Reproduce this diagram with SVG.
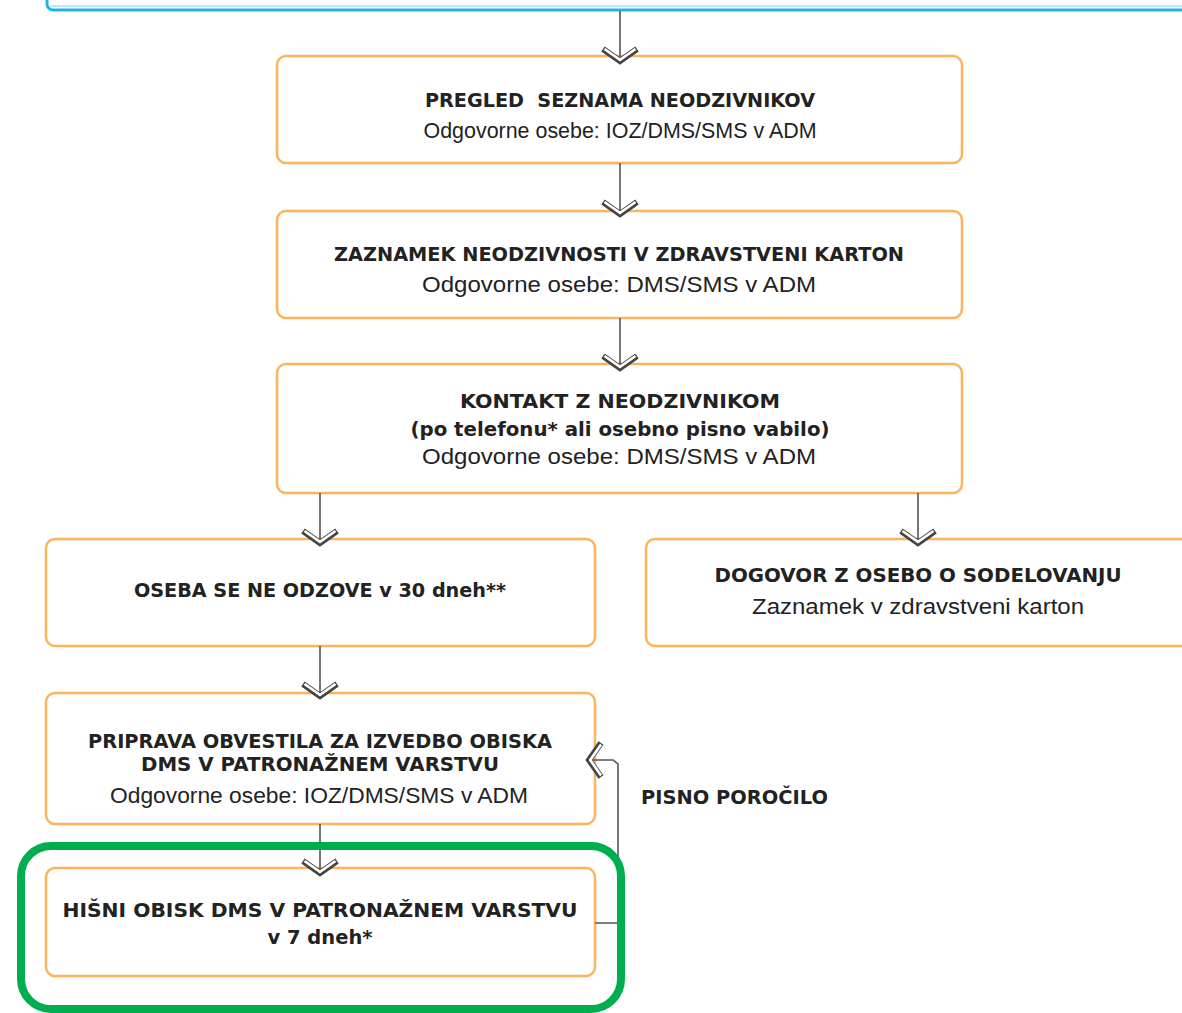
<svg xmlns="http://www.w3.org/2000/svg" width="1182" height="1013" viewBox="0 0 1182 1013">
<defs>
<style>
.box{fill:#fff;stroke:#fbb45c;stroke-width:2.5}
.b{font-family:"DejaVu Sans","Liberation Sans",sans-serif;font-weight:bold;font-size:19px;fill:#222}
.r{font-family:"Liberation Sans",Arial,sans-serif;font-size:22px;fill:#222}
.ln{fill:none;stroke:#555;stroke-width:1.6}
.chO{fill:none;stroke:#444;stroke-width:6;stroke-linejoin:miter;stroke-linecap:butt}
.chI{fill:none;stroke:#fff;stroke-width:2.6;stroke-linejoin:miter;stroke-linecap:butt}
</style>
<g id="chev"><polyline class="chO" points="-17,-12 0,0 17,-12"/><polyline class="chI" points="-15.5,-12 0,-1.2 15.5,-12"/></g>
</defs>
<rect width="1182" height="1013" fill="#fff"/>
<g id="top-box"><rect x="47" y="-30" width="1160" height="40" rx="6" fill="#fff" stroke="#22b5e2" stroke-width="3"/><line x1="50" y1="6" x2="1182" y2="6" stroke="#bfe9f6" stroke-width="2"/></g>
<g id="n1"><rect class="box" x="277" y="56" width="685" height="107" rx="9"/>
<text class="b" x="620" y="107" text-anchor="middle" textLength="390" lengthAdjust="spacingAndGlyphs">PREGLED&#160; SEZNAMA NEODZIVNIKOV</text>
<text class="r" x="620" y="138" text-anchor="middle" textLength="393" lengthAdjust="spacingAndGlyphs">Odgovorne osebe: IOZ/DMS/SMS v ADM</text></g>
<g id="n2"><rect class="box" x="277" y="211" width="685" height="107" rx="9"/>
<text class="b" x="619" y="261" text-anchor="middle" textLength="570" lengthAdjust="spacingAndGlyphs">ZAZNAMEK NEODZIVNOSTI V ZDRAVSTVENI KARTON</text>
<text class="r" x="619" y="292" text-anchor="middle" textLength="394" lengthAdjust="spacingAndGlyphs">Odgovorne osebe: DMS/SMS v ADM</text></g>
<g id="n3"><rect class="box" x="277" y="364" width="685" height="129" rx="9"/>
<text class="b" x="620" y="408" text-anchor="middle" textLength="320" lengthAdjust="spacingAndGlyphs">KONTAKT Z NEODZIVNIKOM</text>
<text class="b" x="620" y="436" text-anchor="middle" textLength="419" lengthAdjust="spacingAndGlyphs">(po telefonu* ali osebno pisno vabilo)</text>
<text class="r" x="619" y="464" text-anchor="middle" textLength="394" lengthAdjust="spacingAndGlyphs">Odgovorne osebe: DMS/SMS v ADM</text></g>
<g id="n4"><rect class="box" x="46" y="539" width="549" height="107" rx="9"/>
<text class="b" x="320" y="597" text-anchor="middle" textLength="372" lengthAdjust="spacingAndGlyphs">OSEBA SE NE ODZOVE v 30 dneh**</text></g>
<g id="n5"><rect class="box" x="646" y="539" width="560" height="107" rx="9"/>
<text class="b" x="918" y="582" text-anchor="middle" textLength="407" lengthAdjust="spacingAndGlyphs">DOGOVOR Z OSEBO O SODELOVANJU</text>
<text class="r" x="918" y="614" text-anchor="middle" textLength="332" lengthAdjust="spacingAndGlyphs">Zaznamek v zdravstveni karton</text></g>
<g id="n6"><rect class="box" x="46" y="693" width="549" height="131" rx="9"/>
<text class="b" x="320" y="748" text-anchor="middle" textLength="464" lengthAdjust="spacingAndGlyphs">PRIPRAVA OBVESTILA ZA IZVEDBO OBISKA</text>
<text class="b" x="320" y="771" text-anchor="middle" textLength="358" lengthAdjust="spacingAndGlyphs">DMS V PATRONAŽNEM VARSTVU</text>
<text class="r" x="319" y="803" text-anchor="middle" textLength="418" lengthAdjust="spacingAndGlyphs">Odgovorne osebe: IOZ/DMS/SMS v ADM</text></g>
<g id="n7"><rect class="box" x="46" y="868" width="549" height="108" rx="9"/>
<text class="b" x="320" y="917" text-anchor="middle" textLength="515" lengthAdjust="spacingAndGlyphs">HIŠNI OBISK DMS V PATRONAŽNEM VARSTVU</text>
<text class="b" x="320" y="944" text-anchor="middle" textLength="105" lengthAdjust="spacingAndGlyphs">v 7 dneh*</text></g>
<g id="connectors">
<line class="ln" x1="620" y1="11" x2="620" y2="58"/>
<line class="ln" x1="620" y1="163" x2="620" y2="212"/>
<line class="ln" x1="620" y1="318" x2="620" y2="366"/>
<line class="ln" x1="320" y1="493" x2="320" y2="541"/>
<line class="ln" x1="918" y1="493" x2="918" y2="541"/>
<line class="ln" x1="320" y1="646" x2="320" y2="694"/>
<line class="ln" x1="320" y1="824" x2="320" y2="870"/>
<polyline class="ln" points="595,923 618,923 618,764 613,760 592,760"/>
<use href="#chev" transform="translate(620,61)"/>
<use href="#chev" transform="translate(620,214)"/>
<use href="#chev" transform="translate(620,368)"/>
<use href="#chev" transform="translate(320,543)"/>
<use href="#chev" transform="translate(918,543)"/>
<use href="#chev" transform="translate(320,696)"/>
<use href="#chev" transform="translate(320,873)"/>
<use href="#chev" transform="translate(589,760) rotate(90)"/>
</g>
<g id="highlight"><rect x="21" y="846" width="600" height="163" rx="30" fill="none" stroke="#00ae4f" stroke-width="8"/></g>
<g id="label"><text class="b" x="641" y="804" textLength="187" lengthAdjust="spacingAndGlyphs">PISNO POROČILO</text></g>
</svg>
